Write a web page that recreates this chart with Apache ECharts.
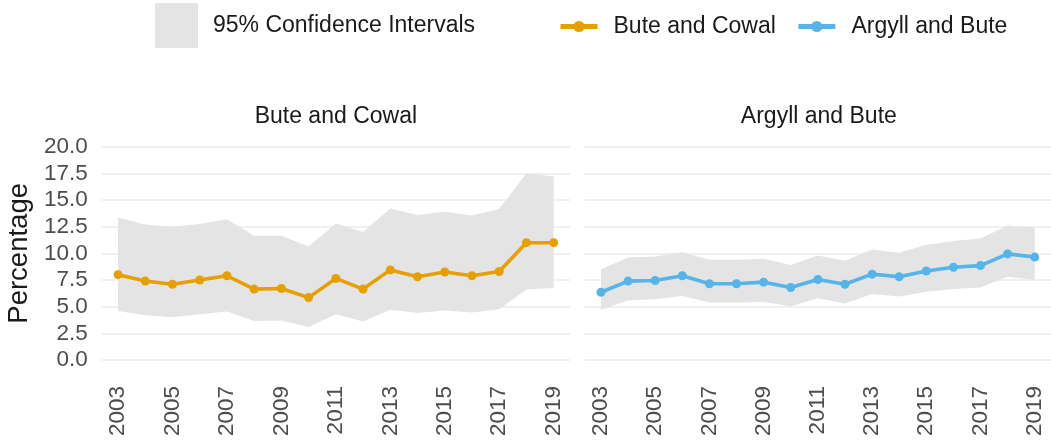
<!DOCTYPE html>
<html>
<head>
<meta charset="utf-8">
<script src="https://cdn.jsdelivr.net/npm/echarts@6/dist/echarts.min.js"></script>
<style>html,body{margin:0;padding:0;background:#fff}#c{width:1051px;height:444px}</style>
</head>
<body>
<div id="c"></div>
<script>
const years = [2003,2004,2005,2006,2007,2008,2009,2010,2011,2012,2013,2014,2015,2016,2017,2018,2019];
const xTickLabels = [2003,2005,2007,2009,2011,2013,2015,2017,2019];
const yTickLabels = [0,2.5,5,7.5,10,12.5,15,17.5,20];

const buteCowal      = [8.0,7.4,7.1,7.5,7.9,6.65,6.7,5.85,7.65,6.65,8.45,7.8,8.25,7.9,8.3,11.0,11.0];
const buteCowalLow   = [4.6,4.2,4.0,4.3,4.55,3.65,3.7,3.1,4.3,3.6,4.7,4.4,4.65,4.45,4.75,6.6,6.75];
const buteCowalHigh  = [13.35,12.7,12.5,12.75,13.2,11.65,11.65,10.65,12.8,12.0,14.2,13.6,13.9,13.55,14.15,17.5,17.2];

const argyllBute     = [6.35,7.4,7.45,7.9,7.15,7.15,7.3,6.8,7.55,7.1,8.05,7.8,8.35,8.7,8.85,9.95,9.65];
const argyllButeLow  = [4.7,5.6,5.7,6.0,5.4,5.4,5.45,5.05,5.8,5.3,6.2,5.95,6.4,6.65,6.8,7.8,7.5];
const argyllButeHigh = [8.5,9.6,9.7,10.1,9.4,9.4,9.5,8.9,9.8,9.3,10.35,10.05,10.8,11.15,11.4,12.6,12.4];

const panelNames = ['Bute and Cowal','Argyll and Bute'];
const ciName = '95% Confidence Intervals';

const ORANGE = '#E69F00', BLUE = '#56B4E9', CI = '#e4e4e4';
const FONT = 'Liberation Sans, Arial, sans-serif';

function pairs(v){ return years.map((y,i)=>[y, v[i]]); }

const grids = [
  {left:101.7, top:146.7, width:468.3, height:213.3},
  {left:584.7, top:146.7, width:468.3, height:213.3}
];

const xAxes = grids.map((g,i)=>({
  type:'value', gridIndex:i, min:2002.4, max:2019.6,
  splitLine:{show:false}, axisLine:{show:false}, axisTick:{show:false},
  axisLabel:{customValues:xTickLabels, rotate:90, margin:26, color:'#4d4d4d',
    fontSize:22.5, fontFamily:FONT, formatter:v=>String(Math.round(v))}
}));
const yAxes = grids.map((g,i)=>({
  type:'value', gridIndex:i, min:yTickLabels[0], max:yTickLabels[yTickLabels.length-1], interval:2.5,
  axisLine:{show:false}, axisTick:{show:false},
  splitLine:{show:true, lineStyle:{color:'#ebebeb', width:1.6}},
  axisLabel:{show:i===0, color:'#4d4d4d', fontSize:22.5, fontFamily:FONT, margin:14,
    formatter:v=>v.toFixed(1)},
  name: i===0 ? 'Percentage' : '', nameLocation:'middle', nameRotate:90, nameGap:68,
  nameTextStyle:{color:'#1a1a1a', fontSize:27.5, fontFamily:FONT}
}));

function bandSeries(i, lo, hi){
  return {
    type:'custom', name:ciName, xAxisIndex:i, yAxisIndex:i, silent:true, z:1,
    itemStyle:{color:CI},
    data: years.map((y,k)=>[y, lo[k], hi[k]]),
    encode:{x:0, y:[1,2]},
    renderItem:function(params, api){
      if (params.dataIndex !== 0) return null;
      const top = years.map((y,k)=>api.coord([y, hi[k]]));
      const bot = years.map((y,k)=>api.coord([y, lo[k]])).reverse();
      return {type:'polygon', shape:{points:top.concat(bot)}, style:{fill:CI}};
    }
  };
}

function panelSeries(i, mid, lo, hi, color, name){
  return [
    bandSeries(i, lo, hi),
    {type:'line', name:name, xAxisIndex:i, yAxisIndex:i, data:pairs(mid),
      symbol:'circle', symbolSize:9, lineStyle:{color:color, width:3.6}, itemStyle:{color:color}, z:3}
  ];
}

const option = {
  animation:false,
  backgroundColor:'#fff',
  textStyle:{fontFamily:FONT},
  grid:grids,
  xAxis:xAxes,
  yAxis:yAxes,
  title: grids.map((g,i)=>({
    text:panelNames[i], left:g.left+g.width/2, top:105, padding:0, textAlign:'center',
    textStyle:{color:'#1a1a1a', fontSize:23, fontWeight:'normal', fontFamily:FONT}
  })),
  legend:[
    {left:155, top:3, padding:0, itemWidth:43, itemHeight:45, selectedMode:false,
      data:[{name:ciName, icon:'rect', itemStyle:{color:CI}}],
      textStyle:{color:'#1a1a1a', fontSize:23, fontFamily:FONT, padding:[0,0,0,10]}},
    {left:558, top:15, padding:0, itemWidth:37, itemHeight:14, itemGap:20, selectedMode:false,
      lineStyle:{width:5},
      data:[panelNames[0], panelNames[1]],
      textStyle:{color:'#1a1a1a', fontSize:23, fontFamily:FONT, padding:[0,0,0,11]}}
  ],
  series:[
    ...panelSeries(0, buteCowal, buteCowalLow, buteCowalHigh, ORANGE, panelNames[0]),
    ...panelSeries(1, argyllBute, argyllButeLow, argyllButeHigh, BLUE, panelNames[1])
  ]
};
const chart = echarts.init(document.getElementById('c'), null, {renderer:'canvas'});
chart.setOption(option);
</script>
</body>
</html>
